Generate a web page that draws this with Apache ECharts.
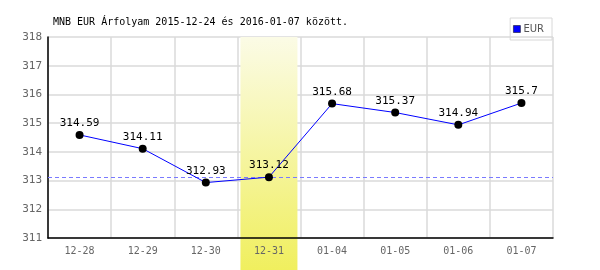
<!DOCTYPE html>
<html><head><meta charset="utf-8">
<script src="https://cdn.jsdelivr.net/npm/echarts@6/dist/echarts.min.js"></script>
<style>html,body{margin:0;padding:0;background:#fff}#c{width:600px;height:270px}</style>
</head><body><div id="c"></div>
<script>
const title = 'MNB EUR Árfolyam 2015-12-24 és 2016-01-07 között.';
const categories = ['12-28','12-29','12-30','12-31','01-04','01-05','01-06','01-07'];
const eurValues = [314.59, 314.11, 312.93, 313.12, 315.68, 315.37, 314.94, 315.7];
const referenceValue = 313.12;
const highlightCategory = '12-31';
const yTicks = [311, 312, 313, 314, 315, 316, 317, 318];

const mono = 'DejaVu Sans Mono';
const gridColor = '#dadada';
const yMin = yTicks[0], yMax = yTicks[yTicks.length - 1];
const chart = echarts.init(document.getElementById('c'), null, {renderer: 'canvas'});
chart.setOption({
  animation: false,
  title: {text: title, left: 48, top: 12, textStyle: {fontFamily: mono, fontSize: 10, fontWeight: 'normal', color: '#000'}},
  legend: {
    right: 48, top: 18, padding: [6, 8, 6, 3], itemWidth: 7, itemHeight: 7,
    borderColor: '#d8d8d8', borderWidth: 1, borderRadius: 0,
    icon: 'rect',
    itemStyle: {color: '#0000ff', borderColor: '#000', borderWidth: 0.5},
    textStyle: {fontFamily: 'DejaVu Sans', fontSize: 10, color: '#555', padding: [0, 0, 0, -2]},
    data: ['EUR']
  },
  grid: {left: 48, right: 47, top: 37, bottom: 32, containLabel: false},
  xAxis: [{
    type: 'category', data: categories, boundaryGap: true, z: 0,
    axisLine: {show: false}, axisTick: {show: false}, axisLabel: {show: false},
    splitLine: {show: true, lineStyle: {color: gridColor, width: 1.5}}
  }, {
    type: 'category', data: categories, boundaryGap: true, position: 'bottom', z: 3,
    axisLine: {lineStyle: {color: '#000', width: 1.5}},
    axisTick: {show: false},
    splitLine: {show: false},
    axisLabel: {fontFamily: mono, fontSize: 10, color: '#666', margin: 8}
  }],
  yAxis: [{
    type: 'value', min: yMin, max: yMax, interval: 1, z: 0,
    axisLine: {show: false}, axisTick: {show: false}, axisLabel: {show: false},
    splitLine: {lineStyle: {color: gridColor, width: 1.5}}
  }, {
    type: 'value', min: yMin, max: yMax, interval: 1, position: 'left', z: 3,
    axisLine: {show: true, lineStyle: {color: '#000', width: 1.5}},
    axisTick: {show: false},
    splitLine: {show: false},
    axisLabel: {fontFamily: mono, fontSize: 11, color: '#666', margin: 6}
  }],
  series: [{
    name: 'EUR', type: 'line', data: eurValues, z: 5,
    xAxisIndex: 0, yAxisIndex: 0,
    itemStyle: {color: '#000'},
    lineStyle: {color: '#0000ff', width: 1},
    symbol: 'circle', symbolSize: 8,
    label: {show: true, position: 'top', distance: 2, fontFamily: mono, fontSize: 11, color: '#000'},
    markLine: {
      silent: true, symbol: 'none', label: {show: false},
      lineStyle: {color: '#7a7aff', type: [4, 3], width: 1, opacity: 1},
      emphasis: {disabled: true},
      data: [{yAxis: referenceValue}]
    }
  }]
});

const bandCx = chart.convertToPixel({xAxisIndex: 0}, highlightCategory);
const bandTop = chart.convertToPixel({yAxisIndex: 0}, yMax);
const halfW = 28.5;
chart.setOption({
  graphic: [{
    type: 'rect', z: 1, silent: true,
    shape: {x: bandCx - halfW, y: bandTop, width: halfW * 2, height: 270 - bandTop},
    style: {fill: new echarts.graphic.LinearGradient(0, 0, 0, 1, [
      {offset: 0, color: '#fbfbe6'}, {offset: 1, color: '#f0ef5e'}
    ])}
  }]
});
</script></body></html>
